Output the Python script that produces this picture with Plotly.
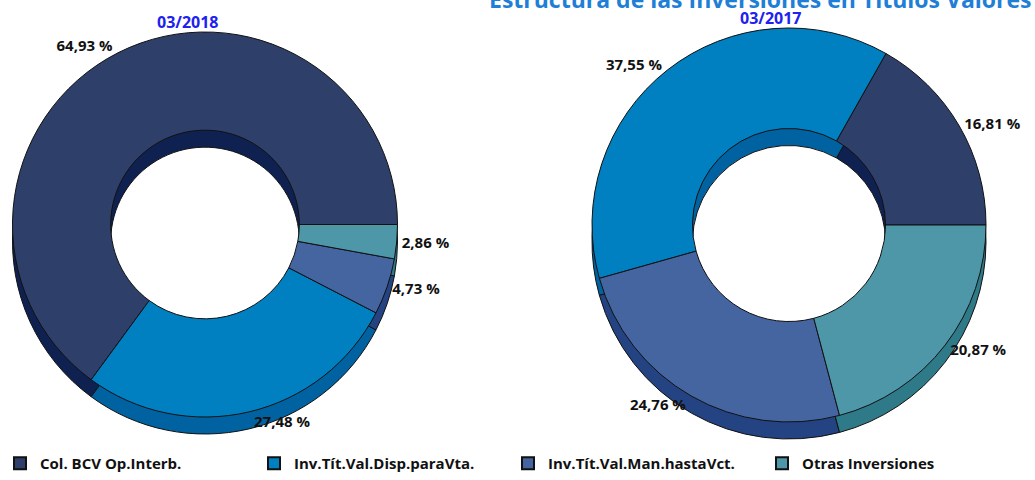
import plotly.graph_objects as go

# ---- data ----
categories = ["Col. BCV Op.Interb.", "Inv.Tít.Val.Disp.paraVta.",
              "Inv.Tít.Val.Man.hastaVct.", "Otras Inversiones"]
values_2018 = [64.93, 27.48, 4.73, 2.86]
values_2017 = [16.81, 37.55, 24.76, 20.87]
period_2018 = "03/2018"
period_2017 = "03/2017"
title_text = "Estructura de las Inversiones en Títulos Valores"

colors_top = ["#2E3F69", "#0080C0", "#4565A1", "#4D97A8"]
colors_side = ["#0F2150", "#0062A0", "#244383", "#2E7A88"]

W, H = 1035, 480
DEPTH = 17
HOLE = 0.49


def fmt(v):
    return f"{v:.2f}".replace(".", ",") + " %"


def dom(cx, cy, r):
    return dict(x=[(cx - r) / W, (cx + r) / W],
                y=[1 - (cy + r) / H, 1 - (cy - r) / H])


def start_rotation(vals):
    # first slice of a counterclockwise pie is laid clockwise from `rotation`;
    # make it begin at 3 o'clock and run counterclockwise
    return 90 - 360 * vals[0] / sum(vals)


pies = [
    (values_2018, 205, 224.5, 192.5),
    (values_2017, 789, 225, 197),
]

fig = go.Figure()
for i, (vals, cx, cy, r) in enumerate(pies):
    rot = start_rotation(vals)
    # side (3D depth) layer
    fig.add_trace(go.Pie(
        labels=categories, values=vals, sort=False, direction="counterclockwise",
        rotation=rot, hole=HOLE, domain=dom(cx, cy + DEPTH, r),
        marker=dict(colors=colors_side, line=dict(color="#111111", width=1)),
        textinfo="none", showlegend=False, hoverinfo="skip",
    ))
    # top layer
    fig.add_trace(go.Pie(
        labels=categories, values=vals, sort=False, direction="counterclockwise",
        rotation=rot, hole=HOLE, domain=dom(cx, cy, r),
        marker=dict(colors=colors_top, line=dict(color="#111111", width=1)),
        text=[fmt(v) for v in vals], textinfo="text", textposition="outside",
        outsidetextfont=dict(family="Open Sans", size=15, color="#111111", weight="bold"),
        showlegend=(i == 0),
    ))

annotations = [
    dict(text=title_text, x=487 / W, y=1 + 1 / H, xref="paper", yref="paper",
         xanchor="left", yanchor="middle", showarrow=False,
         font=dict(family="Open Sans", size=23, color="#1F7FD6", weight="bold")),
    dict(text=period_2018, x=188 / W, y=1 - 22 / H, xref="paper", yref="paper",
         xanchor="center", yanchor="middle", showarrow=False,
         font=dict(family="Open Sans", size=16, color="#2020F0", weight="bold")),
    dict(text=period_2017, x=771 / W, y=1 - 18 / H, xref="paper", yref="paper",
         xanchor="center", yanchor="middle", showarrow=False,
         font=dict(family="Open Sans", size=16, color="#2020F0", weight="bold")),
]

fig.update_layout(
    width=W, height=H,
    margin=dict(l=0, r=0, t=0, b=0),
    paper_bgcolor="white", plot_bgcolor="white",
    annotations=annotations,
    legend=dict(orientation="h", x=0, y=0, xanchor="left", yanchor="bottom",
                entrywidth=209, entrywidthmode="pixels",
                font=dict(family="Open Sans", size=15, color="#111111", weight="bold"),
                traceorder="normal", itemsizing="constant"),
)

fig.write_html("out.html", config={"displayModeBar": False},
               post_script="document.body.style.margin='0';")
